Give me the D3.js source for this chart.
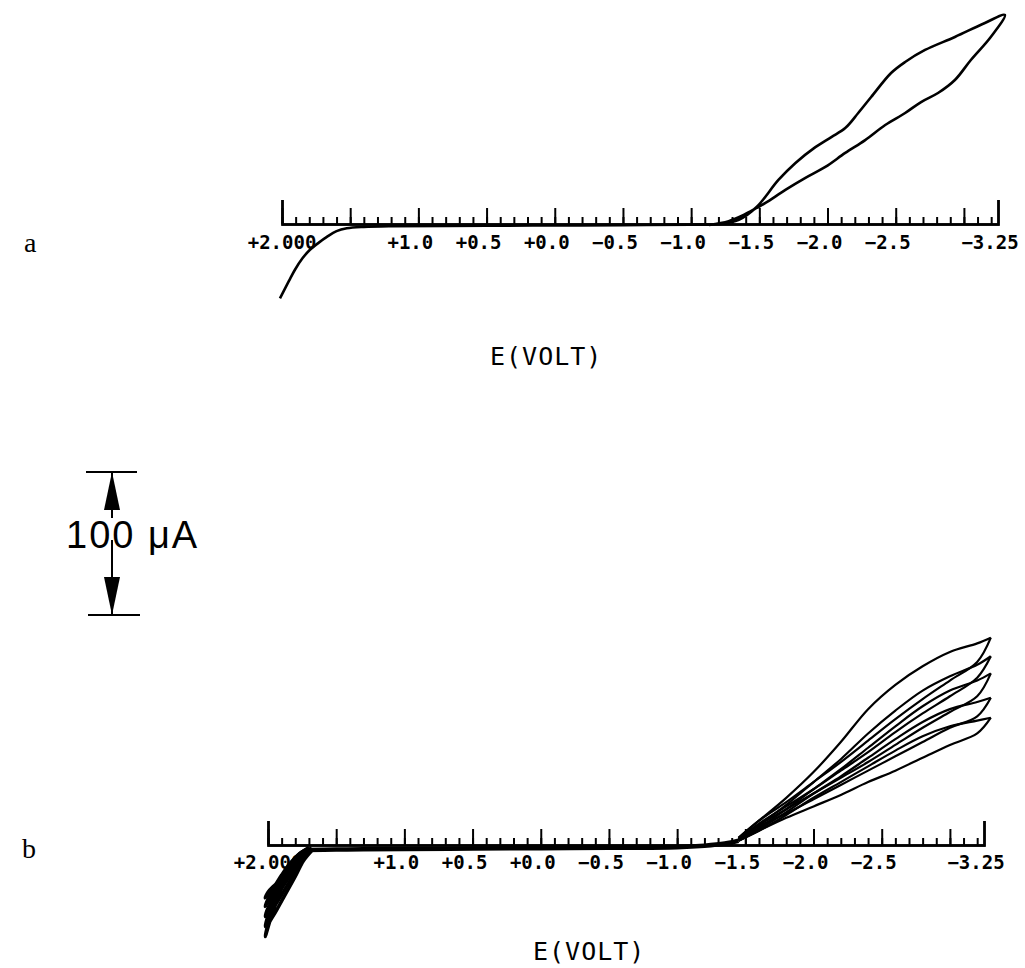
<!DOCTYPE html>
<html>
<head>
<meta charset="utf-8">
<script src="https://cdn.jsdelivr.net/npm/d3@7"></script>
<style>
  body { margin: 0; background: #fff; }
  .tickLbl { font-family: "DejaVu Sans Mono", monospace; font-size: 19px; font-weight: bold; fill: #000; }
  .axTitle { font-family: "DejaVu Sans Mono", monospace; font-size: 25px; letter-spacing: 1px; fill: #000; }
  .panelLbl { font-family: "Liberation Serif", serif; font-size: 28px; fill: #000; }
</style>
</head>
<body>
<script>
// tick labels of the potential axis (volts)
var tickValues = [2.0, 1.0, 0.5, 0.0, -0.5, -1.0, -1.5, -2.0, -2.5, -3.25];
var tickLabels = ["+2.000", "+1.0", "+0.5", "+0.0", "\u22120.5", "\u22121.0", "\u22121.5", "\u22122.0", "\u22122.5", "\u22123.25"];

// panel a : single scan (E in V, I in uA)
var aE = [2.015, 1.95, 1.905, 1.85, 1.795, 1.73, 1.671, 1.6, 1.525, 1.4, 1.2, 0.5, 0.0, -0.5, -1.0, -1.2, -1.35,
  -1.48, -1.64, -1.765, -1.911, -2.028, -2.13, -2.225, -2.32, -2.466, -2.569, -2.715, -2.934, -3.154, -3.30,
  -3.197, -3.051, -2.934, -2.81, -2.686, -2.569, -2.423, -2.276, -2.13, -1.984, -1.838, -1.691, -1.545, -1.48, -1.385, -1.275, -1.13];
var aI = [-52, -40, -32, -24, -18, -13, -9, -5, -3, -2, -1.5, -1.2, -1, -0.8, -0.5, 0, 3,
  11.9, 30.8, 42.7, 53.8, 60.8, 67.1, 77.6, 88.8, 105.6, 113.3, 121.7, 130.8, 140.6, 146.2,
  130.8, 114.7, 100.7, 91.6, 85.3, 77.6, 69.2, 58.7, 49.7, 39.9, 32.2, 23.8, 14.7, 11.2, 6.3, 2, -0.7];

// panel b : repeated scans
var bFlatE = [1.72, 1.5, 1.3, 1.0, 0.5, 0.0, -0.5, -1.0, -1.2, -1.35, -1.45];
var bFlatI = [-3.5, -3.2, -3, -2.8, -2.5, -2.2, -2, -1.5, -0.5, 1, 3];

var bAnOutE = [1.70, 1.78, 1.84, 1.90, 1.96, 2.02];
var bAnRetE = [2.00, 1.94, 1.87, 1.80, 1.74, 1.68];
var bAnOutI = [
  [-3, -9, -18, -30, -45, -64],
  [-3, -8, -16, -27, -40, -57],
  [-3, -8, -15, -25, -36, -50],
  [-2, -7, -14, -23, -33, -43],
  [-2, -7, -13, -21, -30, -37]
];
var bAnRetI = [
  [-56, -46, -34, -22, -11, -4],
  [-50, -41, -30, -19, -9, -3],
  [-44, -36, -26, -17, -8, -3],
  [-38, -31, -23, -15, -7, -3],
  [-33, -27, -20, -13, -6, -2]
];

var bFwdE = [-1.45, -1.6, -1.8, -2.0, -2.2, -2.4, -2.6, -2.8, -3.0, -3.2, -3.3];
var bRevE = [-3.3, -3.2, -3.0, -2.8, -2.6, -2.4, -2.2, -2.0, -1.8, -1.6, -1.45];
var bFwdI = [
  [5, 17, 33, 51, 72, 95, 112, 125, 135, 141, 145],
  [4, 14, 28, 44, 60, 78, 94, 108, 118, 126, 132],
  [4, 12, 25, 39, 53, 68, 83, 97, 108, 115, 120],
  [3, 11, 23, 36, 48, 61, 74, 86, 95, 100, 103],
  [3, 10, 21, 33, 44, 55, 66, 76, 83, 87, 89]
];
var bRevI = [
  [145, 128, 115, 102, 88, 73, 58, 44, 30, 17, 5],
  [132, 117, 104, 92, 79, 65, 52, 39, 27, 15, 4],
  [120, 104, 93, 82, 70, 58, 47, 36, 25, 14, 4],
  [103, 90, 82, 72, 62, 52, 42, 32, 22, 13, 4],
  [89, 78, 70, 61, 52, 44, 35, 27, 19, 10, 3]
];

var scaleBarUA = 100;

const W = 1025, H = 968;
const axisLen = 716;
const pxPerUA = 1.43;

const svg = d3.select("body").append("svg").attr("width", W).attr("height", H);
svg.append("rect").attr("width", W).attr("height", H).attr("fill", "#fff");

const xScale = d3.scaleLinear().domain([2.0, -3.25]).range([0, axisLen]);
const yScale = d3.scaleLinear().domain([0, 100]).range([0, -100 * pxPerUA]);

const line = d3.line()
  .x(d => xScale(d[0])).y(d => yScale(d[1]))
  .curve(d3.curveCatmullRom.alpha(0.5));

const zip = (E, I) => E.map((e, i) => [e, I[i]]);

// draws the potential axis with its ticks and labels
function drawAxis(g, labelDy) {
  var minor = d3.range(0, 53).map(i => +(2 - i * 0.1).toFixed(2));
  var major = d3.range(0, 11).map(i => 2 - i * 0.5);
  g.append("g").call(d3.axisTop(xScale).tickValues(minor).tickSize(7).tickSizeOuter(24).tickFormat(""));
  g.append("g").call(d3.axisTop(xScale).tickValues(major).tickSize(16).tickSizeOuter(24).tickFormat(""));
  g.selectAll("path.domain").attr("stroke", "#000").attr("stroke-width", 2.4);
  g.selectAll(".tick line").attr("stroke", "#000").attr("stroke-width", 2);
  g.selectAll(".tickLbl").data(tickValues).enter().append("text")
    .attr("class", "tickLbl")
    .attr("x", d => xScale(d))
    .attr("dx", (d, i) => i === 0 ? 0 : -8)
    .attr("y", labelDy)
    .attr("text-anchor", "middle")
    .text((d, i) => tickLabels[i]);
}

// ---- panel a
const gA = svg.append("g").attr("transform", "translate(282,224)");
drawAxis(gA, 25);
gA.append("path").attr("d", line(zip(aE, aI)))
  .attr("fill", "none").attr("stroke", "#000").attr("stroke-width", 2.6);
svg.append("text").attr("class", "panelLbl").attr("x", 24).attr("y", 252).text("a");
svg.append("text").attr("class", "axTitle").attr("x", 490).attr("y", 365).text("E(VOLT)");

// ---- panel b
const gB = svg.append("g").attr("transform", "translate(268,845)");
drawAxis(gB, 24);
gB.append("path").attr("d", line(zip(bFlatE, bFlatI)))
  .attr("fill", "none").attr("stroke", "#000").attr("stroke-width", 4.5);
bAnOutI.forEach((arr, k) => {
  var pts = zip(bAnOutE, arr).concat(zip(bAnRetE, bAnRetI[k]));
  gB.append("path").attr("d", line(pts))
    .attr("fill", "none").attr("stroke", "#000").attr("stroke-width", 3.5);
});
bFwdI.forEach((arr, k) => {
  gB.append("path").attr("d", line(zip(bFwdE, arr)))
    .attr("fill", "none").attr("stroke", "#000").attr("stroke-width", 2.2);
  gB.append("path").attr("d", line(zip(bRevE, bRevI[k])))
    .attr("fill", "none").attr("stroke", "#000").attr("stroke-width", 2.2);
});
svg.append("text").attr("class", "panelLbl").attr("x", 22).attr("y", 858).text("b");
svg.append("text").attr("class", "axTitle").attr("x", 533).attr("y", 960).text("E(VOLT)");

// ---- current scale bar
const barX = 112, barTop = 472;
const barLen = yScale(0) - yScale(scaleBarUA);
const gS = svg.append("g");
gS.append("line").attr("x1", 86).attr("x2", 137).attr("y1", barTop).attr("y2", barTop)
  .attr("stroke", "#000").attr("stroke-width", 2);
gS.append("line").attr("x1", 88).attr("x2", 140).attr("y1", barTop + barLen).attr("y2", barTop + barLen)
  .attr("stroke", "#000").attr("stroke-width", 2);
gS.append("line").attr("x1", barX).attr("x2", barX).attr("y1", barTop).attr("y2", barTop + barLen)
  .attr("stroke", "#000").attr("stroke-width", 2);
gS.append("path").attr("d", `M${barX},${barTop} L${barX - 8},${barTop + 38} L${barX + 8},${barTop + 38} Z`).attr("fill", "#000");
gS.append("path").attr("d", `M${barX},${barTop + barLen} L${barX - 8},${barTop + barLen - 38} L${barX + 8},${barTop + barLen - 38} Z`).attr("fill", "#000");
gS.append("rect").attr("x", 96).attr("y", 518).attr("width", 32).attr("height", 22).attr("fill", "#fff");
gS.append("text").attr("x", 66).attr("y", 548)
  .style("font-family", "Liberation Sans, Arial, sans-serif").style("font-size", "38px").style("letter-spacing", "2px")
  .text("100 \u03bcA");
</script>
</body>
</html>
